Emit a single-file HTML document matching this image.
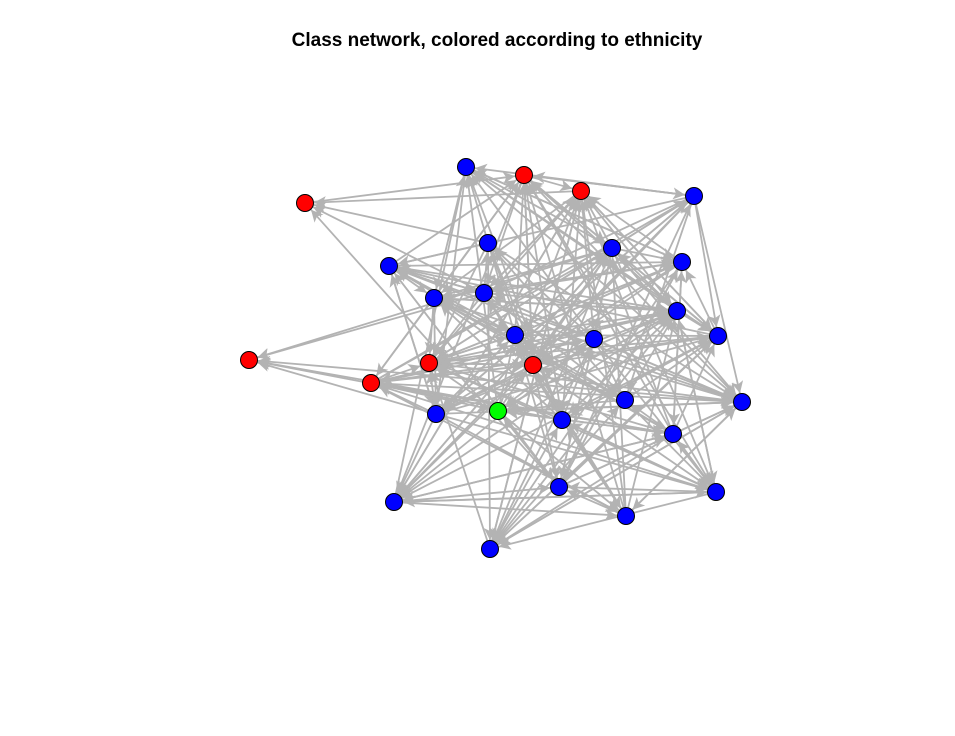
<!DOCTYPE html>
<html><head><style>
html,body{margin:0;padding:0;background:#fff;width:955px;height:736px;overflow:hidden}
.t{position:absolute;top:30px;left:0;width:994px;text-align:center;font:bold 19px "Liberation Sans",sans-serif;color:#000}
</style></head><body>
<div class="t">Class network, colored according to ethnicity</div>
<svg id="s" width="955" height="736" style="position:absolute;left:0;top:0">
<defs><marker id="a" viewBox="0 0 10 10" refX="10" refY="5" markerWidth="16" markerHeight="12" markerUnits="userSpaceOnUse" orient="auto"><path d="M0,0 L10,5 L0,10 L2.5,5 z" fill="#b3b3b3"/></marker></defs>
<g id="e" stroke="#b3b3b3" stroke-width="1.8" fill="none"></g>
<g id="n" stroke="#000" stroke-width="1"></g>
</svg>
<script>
var N=[[305,203,'red'],[524,175,'red'],[581,191,'red'],[249,360,'red'],[371,383,'red'],[429,363,'red'],[533,365,'red'],[498,411,'#00ff00'],
[466,167],[694,196],[488,243],[612,248],[389,266],[682,262],[434,298],[484,293],[677,311],[515,335],[594,339],[718,336],[742,402],[625,400],[436,414],[562,420],[673,434],[394,502],[559,487],[626,516],[716,492],[490,549]];
var seed=11;function r(){seed=(seed*16807)%2147483647;return seed/2147483647;}
var e=document.getElementById('e'),g=document.getElementById('n'),h='';
for(var i=0;i<N.length;i++)for(var j=0;j<N.length;j++){if(i==j)continue;
var a=N[i],b=N[j],dx=b[0]-a[0],dy=b[1]-a[1],d=Math.sqrt(dx*dx+dy*dy);
var p=0.36; if(j==3)p=0.2; if(j==0)p=0.22; if(i==3||i==0)p=0.02; if(d>380)p*=0.4;
if(r()<p){var ux=dx/d,uy=dy/d;
h+='<line x1="'+(a[0]+ux*9)+'" y1="'+(a[1]+uy*9)+'" x2="'+(b[0]-ux*9)+'" y2="'+(b[1]-uy*9)+'" marker-end="url(#a)"/>';}}
e.innerHTML=h;var c='';
N.forEach(function(q){c+='<circle cx="'+q[0]+'" cy="'+q[1]+'" r="8.5" fill="'+(q[2]||'#0000ff')+'"/>';});
g.innerHTML=c;
</script>
</body></html>
